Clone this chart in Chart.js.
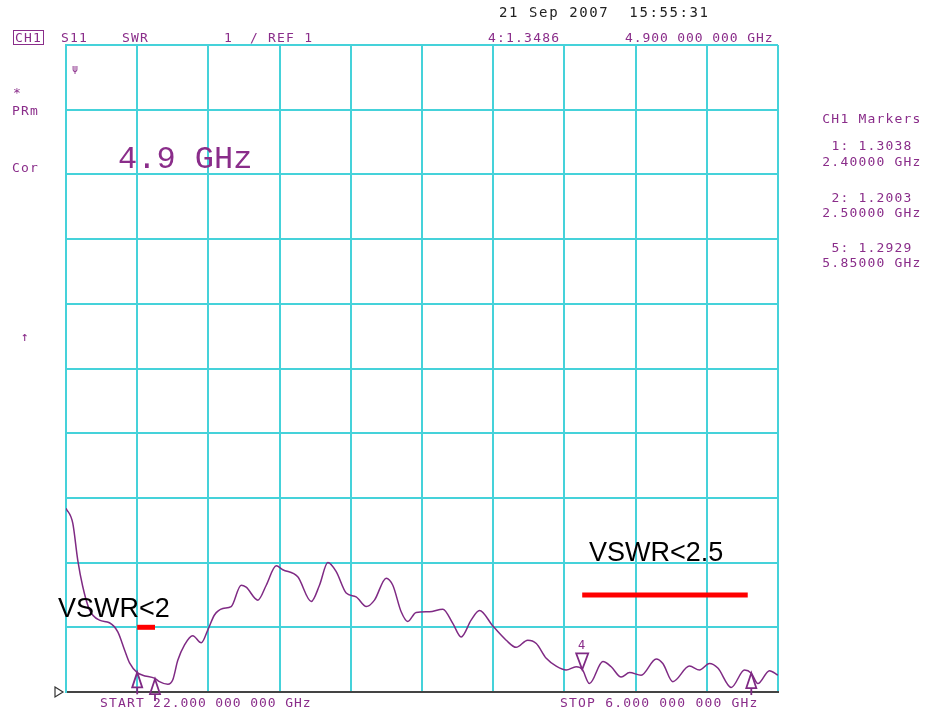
<!DOCTYPE html>
<html>
<head>
<meta charset="utf-8">
<script src="https://cdn.jsdelivr.net/npm/chart.js@4.4.1/dist/chart.umd.min.js"></script>
<style>
  body{margin:0;background:#fff;}
  #wrap{position:relative;width:927px;height:713px;overflow:hidden;}
  #chart{position:absolute;left:0;top:0;}
  .t{position:absolute;white-space:pre;font-family:"DejaVu Sans Mono",monospace;font-size:13px;line-height:13px;letter-spacing:1.2px;color:#8a2d8a;}
  .blk{color:#222;}
  .mk{width:110px;left:817px;text-align:center;}
  .big{font-family:"Liberation Mono",monospace;font-size:32px;line-height:32px;letter-spacing:0;}
  .note{font-family:"Liberation Sans",Arial,sans-serif;font-size:27px;line-height:27px;letter-spacing:0;color:#000;}
  #ch1{border:1.5px solid #8a2d8a;padding:0 1px;}
</style>
</head>
<body>
<div id="wrap">
  <canvas id="chart" width="927" height="713"></canvas>

  <div class="t blk" style="left:499px;top:6px;font-size:14px;letter-spacing:1.6px;">21 Sep 2007  15:55:31</div>
  <div class="t" id="ch1" style="left:13px;top:30px;">CH1</div>
  <div class="t" style="left:61px;top:31px;">S11</div>
  <div class="t" style="left:122px;top:31px;">SWR</div>
  <div class="t" style="left:224px;top:31px;">1</div>
  <div class="t" style="left:250px;top:31px;">/ REF 1</div>
  <div class="t" style="left:488px;top:31px;">4:1.3486</div>
  <div class="t" style="left:625px;top:31px;letter-spacing:0.9px;">4.900 000 000 GHz</div>

  <div class="t" style="left:13px;top:86px;">*</div>
  <div class="t" style="left:12px;top:104px;">PRm</div>
  <div class="t" style="left:12px;top:161px;">Cor</div>
  <div class="t" style="left:21px;top:330px;">↑</div>
  <div class="t" style="left:72px;top:62px;font-size:10px;">ψ</div>

  <div class="t big" style="left:118px;top:144px;">4.9 GHz</div>

  <div class="t mk" style="top:112px;">CH1 Markers</div>
  <div class="t mk" style="top:139px;">1: 1.3038</div>
  <div class="t mk" style="top:155px;">2.40000 GHz</div>
  <div class="t mk" style="top:191px;">2: 1.2003</div>
  <div class="t mk" style="top:206px;">2.50000 GHz</div>
  <div class="t mk" style="top:241px;">5: 1.2929</div>
  <div class="t mk" style="top:256px;">5.85000 GHz</div>

  <div class="t note" style="left:58px;top:595px;">VSWR&lt;2</div>
  <div class="t note" style="left:589px;top:539px;">VSWR&lt;2.5</div>

  <div class="t" style="left:578px;top:639px;font-size:12px;">4</div>
  <div class="t" style="left:100px;top:696px;">START</div>
  <div class="t" style="left:153px;top:696px;">2</div>
  <div class="t" style="left:163px;top:696px;letter-spacing:0.9px;">2.000 000 000 GHz</div>
  <div class="t" style="left:560px;top:696px;">STOP 6.000 000 000 GHz</div>
</div>

<script>
// trace (GHz, SWR)
const freqGHz = [2.00,2.038,2.066,2.094,2.132,2.188,2.244,2.291,2.329,2.357,2.40,2.431,2.50,2.525,2.572,2.60,2.628,2.666,2.712,2.76,2.797,2.834,2.881,2.928,2.984,3.012,3.078,3.125,3.181,3.218,3.302,3.378,3.424,3.471,3.518,3.574,3.63,3.687,3.733,3.799,3.836,3.883,3.92,3.967,4.042,4.117,4.173,4.22,4.276,4.323,4.398,4.473,4.529,4.594,4.642,4.698,4.754,4.81,4.866,4.90,4.941,5.016,5.063,5.119,5.166,5.231,5.316,5.353,5.409,5.503,5.559,5.615,5.662,5.737,5.812,5.85,5.887,5.952,6.00];
const swr     = [3.84,3.61,3.04,2.63,2.27,2.11,2.07,1.93,1.65,1.45,1.30,1.26,1.21,1.16,1.12,1.19,1.49,1.73,1.87,1.76,1.96,2.19,2.29,2.32,2.65,2.62,2.42,2.65,2.95,2.89,2.78,2.40,2.65,3.00,2.86,2.53,2.47,2.32,2.42,2.76,2.65,2.24,2.09,2.23,2.24,2.28,2.06,1.85,2.11,2.26,2.02,1.80,1.69,1.80,1.75,1.52,1.40,1.34,1.39,1.35,1.13,1.47,1.39,1.23,1.30,1.26,1.51,1.44,1.16,1.40,1.34,1.44,1.37,1.07,1.34,1.29,1.13,1.33,1.26];

// markers
const markerIds   = ['1','2','4','5'];
const markerFreqs = [2.40, 2.50, 4.90, 5.85];
const markerVals  = [1.3038, 1.2003, 1.3486, 1.2929];
const markerDown  = [false, false, true, false];

// spec lines drawn on the screenshot
const spec1Freqs = [2.40, 2.50];
const spec1Vals  = [2, 2];
const spec2Freqs = [4.90, 5.83];
const spec2Vals  = [2.5, 2.5];

const refValue = 1;
const PURPLE = '#7f2a84';
const CYAN = '#45d2da';

function pts(xs, ys){ return xs.map((x,i)=>({x:x, y:ys[i]})); }

const markerPlugin = {
  id:'markers',
  afterDatasetsDraw(chart){
    const ctx = chart.ctx, sx = chart.scales.x, sy = chart.scales.y;
    ctx.save();
    ctx.strokeStyle = PURPLE;
    ctx.lineWidth = 1.8;
    markerFreqs.forEach((f,i)=>{
      const px = sx.getPixelForValue(f), py = sy.getPixelForValue(markerVals[i]);
      ctx.beginPath();
      if(markerDown[i]){
        ctx.moveTo(px, py);
        ctx.lineTo(px-6, py-16);
        ctx.lineTo(px+6, py-16);
      } else {
        ctx.moveTo(px, py);
        ctx.lineTo(px-5, py+15);
        ctx.lineTo(px+5, py+15);
      }
      ctx.closePath();
      ctx.stroke();
      if(!markerDown[i]){
        ctx.beginPath();
        ctx.moveTo(px, py+15);
        ctx.lineTo(px, py+22);
        ctx.stroke();
      }
    });
    // reference level pointer
    const ry = sy.getPixelForValue(refValue), lx = chart.chartArea.left;
    ctx.strokeStyle = '#333';
    ctx.lineWidth = 1.2;
    ctx.beginPath();
    ctx.moveTo(lx-11, ry-5);
    ctx.lineTo(lx-3, ry);
    ctx.lineTo(lx-11, ry+5);
    ctx.closePath();
    ctx.stroke();
    ctx.restore();
  }
};

new Chart(document.getElementById('chart').getContext('2d'), {
  type:'line',
  data:{
    datasets:[
      { data: pts(freqGHz, swr), borderColor: PURPLE, borderWidth: 1.5, pointRadius: 0,
        cubicInterpolationMode: 'monotone' },
      { data: pts(spec1Freqs, spec1Vals), borderColor: '#ff0000', borderWidth: 5, pointRadius: 0, borderCapStyle:'butt' },
      { data: pts(spec2Freqs, spec2Vals), borderColor: '#ff0000', borderWidth: 5, pointRadius: 0, borderCapStyle:'butt' }
    ]
  },
  options:{
    responsive:false,
    animation:false,
    layout:{ padding:{ left:66, right:149, top:45, bottom:21 } },
    plugins:{ legend:{display:false}, tooltip:{enabled:false} },
    scales:{
      x:{
        type:'linear', min:2, max:6,
        ticks:{ display:false, stepSize:0.4 },
        grid:{ color:CYAN, lineWidth:2, drawTicks:false },
        border:{ display:true, color:'#444', width:2 }
      },
      y:{
        min:1, max:11,
        ticks:{ display:false, stepSize:1 },
        grid:{ color:CYAN, lineWidth:2, drawTicks:false },
        border:{ display:true, color:CYAN, width:2 }
      }
    }
  },
  plugins:[markerPlugin]
});
</script>
</body>
</html>
